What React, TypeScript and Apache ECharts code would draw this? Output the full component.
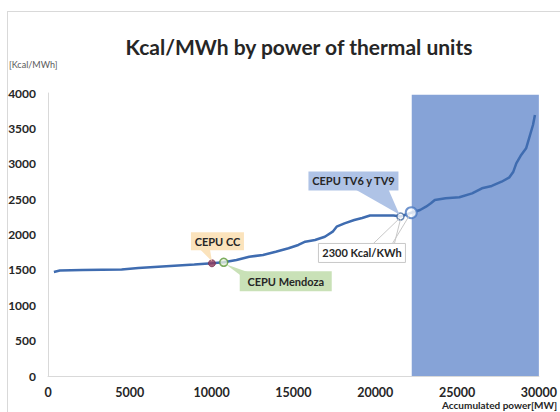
import React, { useEffect, useRef } from "react";
import * as echarts from "echarts";

const powerMW = [360, 720, 2100, 4500, 5520, 8940, 10020, 10740, 11520, 12300, 13140, 13920, 14700, 15300, 15720, 16320, 16920, 17400, 17640, 18120, 18720, 19200, 19680, 21120, 21540, 22200, 22740, 23100, 23400, 23640, 24300, 25140, 25920, 26520, 27120, 27720, 28200, 28440, 28620, 28920, 29220, 29400, 29640, 29760];
const heatRate = [1470, 1490, 1498, 1505, 1527, 1576, 1593, 1607, 1640, 1686, 1710, 1757, 1805, 1852, 1898, 1922, 1969, 2040, 2110, 2158, 2205, 2233, 2268, 2270, 2255, 2308, 2346, 2393, 2441, 2488, 2512, 2526, 2582, 2653, 2686, 2746, 2808, 2888, 3006, 3124, 3218, 3360, 3548, 3689];

const highlightNames = ["CEPU CC", "CEPU Mendoza", "CEPU TV6 y TV9", "2300 Kcal/KWh"];
const highlightPower = [10020, 10740, 21540, 22200];
const highlightRate = [1593, 1607, 2255, 2308];

const shadedRange = [22230, 30000];
const shadedTop = 3975;

const xTicks = [0, 30000, 5000];
const yTicks = [0, 4000, 500];

const FONT = "Lato";
const TXT = "#262626";

export default function App() {
  const ref = useRef<HTMLDivElement>(null);
  useEffect(() => {
    const chart = echarts.init(ref.current!, undefined, { renderer: "svg" });
    const lineData = powerMW.map((x, i) => [x, heatRate[i]]);
    const markerStyles = [
      { color: "#8E3B5E", borderColor: "#7A2F4F", borderWidth: 1, size: 7 },
      { color: "#E6F0DC", borderColor: "#5E9A3A", borderWidth: 1.5, size: 8 },
      { color: "#FFFFFF", borderColor: "#44699E", borderWidth: 1.5, size: 7 },
      { color: "#FFFFFF", borderColor: "#4A78C0", borderWidth: 2, size: 11 },
    ];
    chart.setOption({
      animation: false,
      textStyle: { fontFamily: FONT },
      title: {
        text: "Kcal/MWh by power of thermal units",
        left: 294,
        top: 31,
        textAlign: "center",
        textStyle: { fontFamily: FONT, fontSize: 21, fontWeight: "bold", color: TXT },
      },
      grid: { left: 48, right: 12, top: 93, bottom: 36, containLabel: false },
      xAxis: {
        type: "value",
        min: xTicks[0],
        max: xTicks[1],
        interval: xTicks[2],
        axisLine: { show: true, lineStyle: { color: "#D9D9D9", width: 1 } },
        axisTick: { show: false },
        splitLine: { show: false },
        axisLabel: { fontFamily: FONT, fontSize: 12.5, fontWeight: "bold", color: TXT, margin: 10, formatter: (v: number) => String(v) },
      },
      yAxis: {
        type: "value",
        min: yTicks[0],
        max: yTicks[1],
        interval: yTicks[2],
        axisLine: { show: true, lineStyle: { color: "#D9D9D9", width: 1 } },
        axisTick: { show: false },
        splitLine: { show: false },
        axisLabel: { fontFamily: FONT, fontSize: 12, fontWeight: "bold", color: TXT, margin: 12, formatter: (v: number) => String(v) },
      },
      series: [
        {
          type: "line",
          data: [],
          z: 1,
          silent: true,
          markArea: {
            silent: true,
            itemStyle: { color: "#86A3D7", opacity: 1 },
            data: [[{ xAxis: shadedRange[0], yAxis: 0 }, { xAxis: shadedRange[1], yAxis: shadedTop }]],
          },
        },
        {
          type: "line",
          data: lineData,
          z: 3,
          showSymbol: false,
          lineStyle: { color: "#3F6CB0", width: 2.5 },
        },
        {
          type: "scatter",
          z: 5,
          data: highlightPower.map((x, i) => ({
            name: highlightNames[i],
            value: [x, highlightRate[i]],
            symbolSize: markerStyles[i].size,
            itemStyle: {
              color: markerStyles[i].color,
              borderColor: markerStyles[i].borderColor,
              borderWidth: markerStyles[i].borderWidth,
            },
          })),
        },
      ],
    });

    const px = highlightPower.map((x, i) => chart.convertToPixel({ gridIndex: 0 }, [x, highlightRate[i]]) as number[]);
    const [cc, mz, tv, tv2] = px;

    const box = (x: number, y: number, w: number, h: number, fill: string, text: string, stroke?: string) => ({
      type: "group",
      children: [
        { type: "rect", shape: { x, y, width: w, height: h }, style: { fill, stroke: stroke || "none", lineWidth: stroke ? 1 : 0 }, z: 10 },
        {
          type: "text",
          x: x + w / 2,
          y: y + h / 2,
          style: { text, fill: TXT, font: `bold 11px ${FONT}`, align: "center", verticalAlign: "middle" },
          z: 11,
        },
      ],
    });

    chart.setOption({
      graphic: [
        { type: "line", shape: { x1: 7, y1: 11.5, x2: 560, y2: 11.5 }, style: { stroke: "#D9D9D9", lineWidth: 1 }, z: 0, silent: true },
        { type: "line", shape: { x1: 7.5, y1: 11, x2: 7.5, y2: 412 }, style: { stroke: "#D9D9D9", lineWidth: 1 }, z: 0, silent: true },
        { type: "text", x: 9, y: 60, style: { text: "[Kcal/MWh]", fill: "#595959", font: `9px ${FONT}` } },
        { type: "text", x: 442, y: 400, style: { text: "Accumulated power[MW]", fill: TXT, font: `bold 10px ${FONT}` } },
        // CEPU CC callout
        { type: "polygon", shape: { points: [[cc[0] - 12, cc[1] - 14], [cc[0] - 2, cc[1] - 14], [cc[0], cc[1] - 2]] }, style: { fill: "#FBE3BC" }, z: 9 },
        box(cc[0] - 21, cc[1] - 31, 53, 18, "#FBE3BC", "CEPU CC"),
        // Mendoza callout
        { type: "polygon", shape: { points: [[mz[0] + 2, mz[1] + 2], [mz[0] + 18, mz[1] + 14], [mz[0] + 36, mz[1] + 14]] }, style: { fill: "#C9E1B7" }, z: 9 },
        box(mz[0] + 16, mz[1] + 9, 92, 20, "#C9E1B7", "CEPU Mendoza"),
        // TV6 y TV9 callout
        { type: "polygon", shape: { points: [[tv[0] - 45, tv[1] - 27], [tv[0] - 12, tv[1] - 27], [tv[0] - 1, tv[1] - 2]] }, style: { fill: "#AFC3E6" }, z: 9 },
        box(tv[0] - 92, tv[1] - 45, 90, 19, "#AFC3E6", "CEPU TV6 y TV9"),
        // 2300 Kcal/KWh callout
        { type: "polyline", shape: { points: [[tv[0] - 27, tv[1] + 27], [tv[0] - 1, tv[1] + 2]] }, style: { stroke: "#C8C8C8", lineWidth: 1, fill: "none" }, z: 9 },
        { type: "polyline", shape: { points: [[tv[0] - 8, tv[1] + 27], [tv2[0] - 2, tv2[1] + 3]] }, style: { stroke: "#C8C8C8", lineWidth: 1, fill: "none" }, z: 9 },
        { type: "polyline", shape: { points: [[tv[0] - 6, tv[1] + 27], [tv[0], tv[1] + 3]] }, style: { stroke: "#C8C8C8", lineWidth: 1, fill: "none" }, z: 9 },
        box(tv[0] - 82, tv[1] + 27, 87, 19, "#FFFFFF", "2300 Kcal/KWh", "#C8C8C8"),
      ],
    });

    return () => chart.dispose();
  }, []);
  return <div ref={ref} style={{ width: 560, height: 412, position: "absolute", left: 0, top: 0, overflow: "hidden" }} />;
}
